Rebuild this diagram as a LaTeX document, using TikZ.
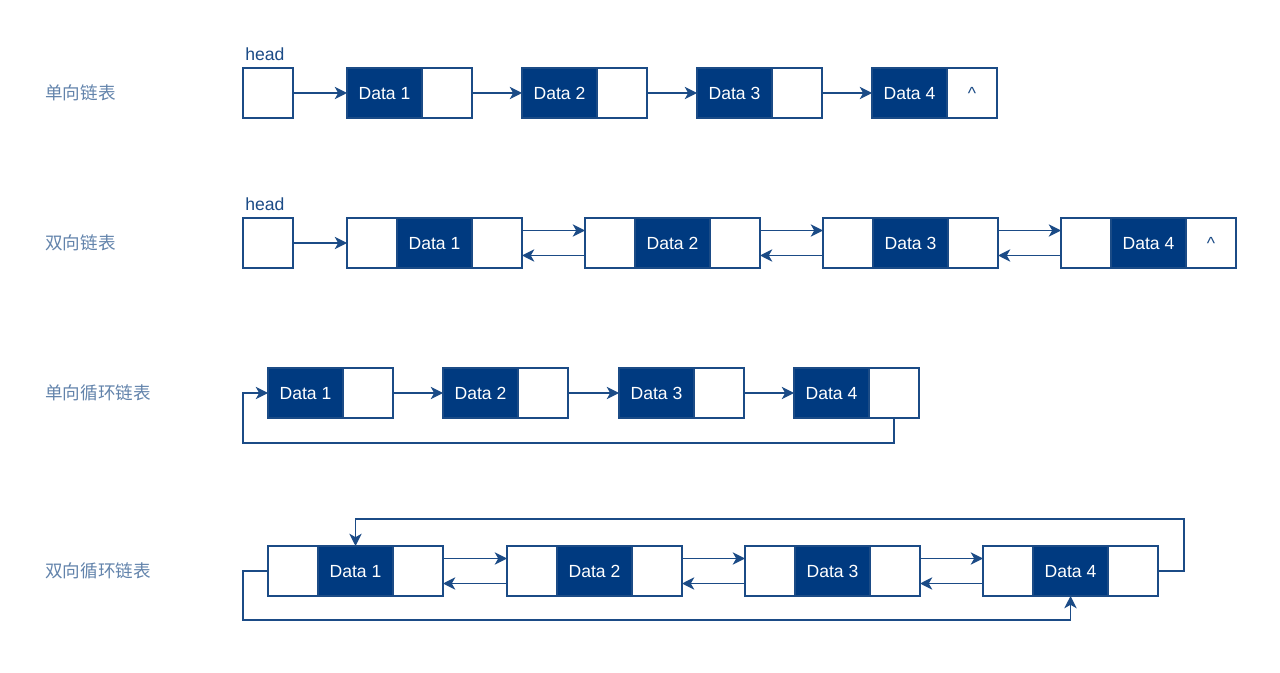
\documentclass[tikz,border=0pt]{standalone}
\usepackage{fontspec}
\setmainfont{Liberation Sans}
\newfontfamily\cjkfont{Noto Sans CJK SC}
\usetikzlibrary{arrows.meta,positioning}
\definecolor{nodeblue}{HTML}{003A80}
\definecolor{lineblue}{HTML}{1B4B86}
\definecolor{labelblue}{HTML}{6283AB}
\tikzset{
  databox/.style={shape=rectangle,draw=lineblue,fill=nodeblue,text=white,minimum width=1.5cm,minimum height=1cm,inner sep=0pt,outer sep=0pt,line width=0.8pt,text height=7.2pt,text depth=0pt,font=\fontsize{10}{12}\selectfont},
  ptrbox/.style={shape=rectangle,draw=lineblue,fill=white,text=lineblue,minimum width=1cm,minimum height=1cm,inner sep=0pt,outer sep=0pt,line width=0.8pt,text height=7.2pt,text depth=0pt,font=\fontsize{10}{12}\selectfont},
  link/.style={draw=lineblue,line width=0.8pt,-{Stealth[length=7pt,width=7pt,inset=2pt]}},
  rowlabel/.style={anchor=west,inner sep=0pt,text=labelblue,font=\cjkfont\fontsize{10}{12}\selectfont},
  headlabel/.style={anchor=base west,text=lineblue,inner sep=0pt,xshift=0.04cm,yshift=0.14cm,font=\fontsize{10}{12}\selectfont}
}

\begin{document}
\begin{tikzpicture}
\useasboundingbox (0,0) rectangle (25.6,-13.46);

% singly linked
\node[rowlabel] (l1) at (0.9,-1.86) {单向链表};
\node[ptrbox] (h1) at (5.36,-1.86) {};
\node[headlabel] (t1) at (h1.north west) {head};
\node[databox,anchor=west] (a1) at (6.94,-1.86) {Data 1};
\node[ptrbox,right=0pt of a1] (a1p) {};
\node[databox,anchor=west] (a2) at (10.44,-1.86) {Data 2};
\node[ptrbox,right=0pt of a2] (a2p) {};
\node[databox,anchor=west] (a3) at (13.94,-1.86) {Data 3};
\node[ptrbox,right=0pt of a3] (a3p) {};
\node[databox,anchor=west] (a4) at (17.44,-1.86) {Data 4};
\node[ptrbox,right=0pt of a4] (a4p) {\textasciicircum};
\draw[link] (h1) -- (a1);
\draw[link] (a1p) -- (a2);
\draw[link] (a2p) -- (a3);
\draw[link] (a3p) -- (a4);

% doubly linked
\node[rowlabel] (l2) at (0.9,-4.86) {双向链表};
\node[ptrbox] (h2) at (5.36,-4.86) {};
\node[headlabel] (t2) at (h2.north west) {head};
\node[ptrbox,anchor=west] (b1l) at (6.94,-4.86) {};
\node[databox,right=0pt of b1l] (b1) {Data 1};
\node[ptrbox,right=0pt of b1] (b1r) {};
\node[ptrbox,anchor=west] (b2l) at (11.70,-4.86) {};
\node[databox,right=0pt of b2l] (b2) {Data 2};
\node[ptrbox,right=0pt of b2] (b2r) {};
\node[ptrbox,anchor=west] (b3l) at (16.46,-4.86) {};
\node[databox,right=0pt of b3l] (b3) {Data 3};
\node[ptrbox,right=0pt of b3] (b3r) {};
\node[ptrbox,anchor=west] (b4l) at (21.22,-4.86) {};
\node[databox,right=0pt of b4l] (b4) {Data 4};
\node[ptrbox,right=0pt of b4] (b4r) {\textasciicircum};
\draw[link] (h2) -- (b1l);
\draw[link] ([yshift=0.25cm]b1r.east) -- ([yshift=0.25cm]b2l.west);
\draw[link] ([yshift=-0.25cm]b2l.west) -- ([yshift=-0.25cm]b1r.east);
\draw[link] ([yshift=0.25cm]b2r.east) -- ([yshift=0.25cm]b3l.west);
\draw[link] ([yshift=-0.25cm]b3l.west) -- ([yshift=-0.25cm]b2r.east);
\draw[link] ([yshift=0.25cm]b3r.east) -- ([yshift=0.25cm]b4l.west);
\draw[link] ([yshift=-0.25cm]b4l.west) -- ([yshift=-0.25cm]b3r.east);

% singly circular
\node[rowlabel] (l3) at (0.9,-7.86) {单向循环链表};
\node[databox,anchor=west] (c1) at (5.36,-7.86) {Data 1};
\node[ptrbox,right=0pt of c1] (c1p) {};
\node[databox,anchor=west] (c2) at (8.86,-7.86) {Data 2};
\node[ptrbox,right=0pt of c2] (c2p) {};
\node[databox,anchor=west] (c3) at (12.38,-7.86) {Data 3};
\node[ptrbox,right=0pt of c3] (c3p) {};
\node[databox,anchor=west] (c4) at (15.88,-7.86) {Data 4};
\node[ptrbox,right=0pt of c4] (c4p) {};
\coordinate (c0) at (4.86,-8.86);
\draw[link] (c1p) -- (c2);
\draw[link] (c2p) -- (c3);
\draw[link] (c3p) -- (c4);
\draw[link] (c4p.south) |- (c0) |- (c1.west);

% doubly circular
\node[rowlabel] (l4) at (0.9,-11.42) {双向循环链表};
\node[ptrbox,anchor=west] (d1l) at (5.36,-11.42) {};
\node[databox,right=0pt of d1l] (d1) {Data 1};
\node[ptrbox,right=0pt of d1] (d1r) {};
\node[ptrbox,anchor=west] (d2l) at (10.14,-11.42) {};
\node[databox,right=0pt of d2l] (d2) {Data 2};
\node[ptrbox,right=0pt of d2] (d2r) {};
\node[ptrbox,anchor=west] (d3l) at (14.90,-11.42) {};
\node[databox,right=0pt of d3l] (d3) {Data 3};
\node[ptrbox,right=0pt of d3] (d3r) {};
\node[ptrbox,anchor=west] (d4l) at (19.66,-11.42) {};
\node[databox,right=0pt of d4l] (d4) {Data 4};
\node[ptrbox,right=0pt of d4] (d4r) {};
\coordinate (d0) at (23.68,-10.38);
\coordinate (e0) at (4.86,-12.40);
\draw[link] ([yshift=0.25cm]d1r.east) -- ([yshift=0.25cm]d2l.west);
\draw[link] ([yshift=-0.25cm]d2l.west) -- ([yshift=-0.25cm]d1r.east);
\draw[link] ([yshift=0.25cm]d2r.east) -- ([yshift=0.25cm]d3l.west);
\draw[link] ([yshift=-0.25cm]d3l.west) -- ([yshift=-0.25cm]d2r.east);
\draw[link] ([yshift=0.25cm]d3r.east) -- ([yshift=0.25cm]d4l.west);
\draw[link] ([yshift=-0.25cm]d4l.west) -- ([yshift=-0.25cm]d3r.east);
\draw[link] (d4r.east) -| (d0) -| (d1.north);
\draw[link] (d1l.west) -| (e0) -| (d4.south);
\end{tikzpicture}
\end{document}
